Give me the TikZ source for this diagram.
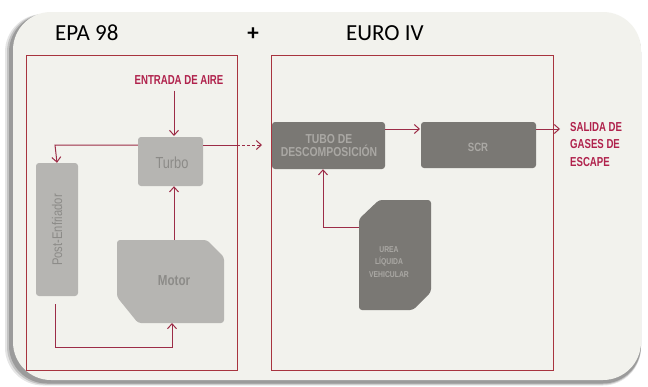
\documentclass[tikz,border=0pt]{standalone}
\usepackage{fontspec}
\setmainfont{Carlito}
\newfontfamily\condb[FakeStretch=0.74]{Liberation Sans}
\newfontfamily\cond[FakeStretch=0.8]{Liberation Sans}
\usetikzlibrary{arrows.meta}
\definecolor{cardbg}{HTML}{F2F2ED}
\definecolor{frame}{HTML}{A8343F}
\definecolor{arr}{HTML}{9C2C47}
\definecolor{lbl}{HTML}{B0224C}
\definecolor{lightbox}{HTML}{B6B5B2}
\definecolor{lighttxt}{HTML}{8C8B88}
\definecolor{darkbox}{HTML}{7A7874}
\definecolor{darktxt}{HTML}{AAA8A4}
\begin{document}
\begin{tikzpicture}[x=1pt,y=-1pt,
  flow/.style={draw=arr, line width=1pt, -{Straight Barb[length=5pt,width=9pt,line width=1pt]}},
  redframe/.style={draw=frame, line width=0.9pt},
  lbox/.style={fill=lightbox, rounded corners=3pt, inner sep=0pt},
  dbox/.style={fill=darkbox, rounded corners=3pt, inner sep=0pt},
  redlbl/.style={text=lbl, font=\condb\bfseries\fontsize{13}{15}\selectfont, inner sep=0pt},
  title/.style={font=\fontsize{23}{26}\selectfont, text=black, inner sep=0pt}]
\useasboundingbox (0,0) rectangle (648,386);
\fill[white] (0,0) rectangle (648,386);
% shadow
\foreach \o/\op in {7/0.10,5/0.15,3/0.2}{
  \fill[black, opacity=\op, rounded corners=38pt] (12-\o,14) rectangle (641,382+\o*0.5);
}
% card
\fill[cardbg, rounded corners=38pt] (13,12) rectangle (641,380);
% titles
\node[title, anchor=west] (t1) at (55,33) {EPA 98};
\node[title] (plus) at (253,34) {\textbf{+}};
\node[title, anchor=west] (t2) at (346,33) {EURO IV};
% frames
\draw[redframe] (26,55) rectangle (237,370);
\draw[redframe] (271,55) rectangle (553,370);
% left block
\node[redlbl] (aire) at (179,80) {ENTRADA DE AIRE};
\node[lbox, minimum width=65pt, minimum height=49pt] (turbo) at (170.5,161.5) {};
\node[text=lighttxt, font=\cond\fontsize{16}{18}\selectfont] at (172,163) {Turbo};
\node[lbox, minimum width=42pt, minimum height=133pt] (post) at (57,229.5) {};
\node[text=lighttxt, font=\cond\fontsize{14}{15}\selectfont, rotate=90] at (57,230) {Post-Enfriador};
\path[fill=lightbox, rounded corners=3pt] (117,240) -- (207,240) -- (224,257) -- (224,323) -- (138,323) -- (117,297) -- cycle;
\node[inner sep=0pt, minimum width=107pt, minimum height=83pt] (motor) at (170.5,281.5) {};
\node[text=lighttxt, font=\cond\bfseries\fontsize{14.5}{16}\selectfont] at (174,281) {Motor};
% left arrows
\draw[flow] (aire.south -| 174,0) ++(0,6) -- (174,136);
\draw[flow] (turbo.west |- 0,145) -- (55,145) -- (post.north);
\draw[flow] (55,304) -- (55,347) -- (172,347) -- (172,323);
\draw[flow] (174,240) -- (turbo.south -| 174,0);
\draw[draw=arr, line width=1pt] (turbo.east |- 0,145) -- (237,145);
\draw[draw=arr, line width=1pt, dashed, dash pattern=on 3pt off 2pt, -{Straight Barb[length=5pt,width=9pt,line width=1pt]}] (237,145) -- (262,145);
% right block
\node[dbox, minimum width=113pt, minimum height=47pt] (tdc) at (328.5,145.5) {};
\node[text=darktxt, font=\cond\bfseries\fontsize{13}{13}\selectfont, align=center, inner sep=0pt] at (329,146) {TUBO DE\\DESCOMPOSICIÓN};
\node[dbox, minimum width=115pt, minimum height=46pt] (scr) at (478.5,145) {};
\node[text=darktxt, font=\cond\bfseries\fontsize{12}{14}\selectfont] at (478,147) {SCR};
\path[fill=darkbox, rounded corners=3pt] (379,200) -- (431,200) -- (431,292) -- (413,310) -- (359,310) -- (359,219) -- cycle;
\node[inner sep=0pt, minimum width=72pt, minimum height=110pt] (urea) at (395,255) {};
\node[text=darktxt, font=\cond\bfseries\fontsize{8.5}{12.5}\selectfont, align=center, inner sep=0pt] at (389,262) {UREA\\LÍQUIDA\\VEHICULAR};
\draw[flow] (tdc.east |- 0,129) -- (420,129);
\draw[flow] (scr.east |- 0,129) -- (560,129);
\node[redlbl, anchor=north west, align=left, font=\condb\bfseries\fontsize{13}{17.5}\selectfont] (salida) at (570,122) {SALIDA DE\\GASES DE\\ESCAPE};
\draw[flow] (359,227) -- (323,227) -- (tdc.south -| 323,0);
\end{tikzpicture}
\end{document}
